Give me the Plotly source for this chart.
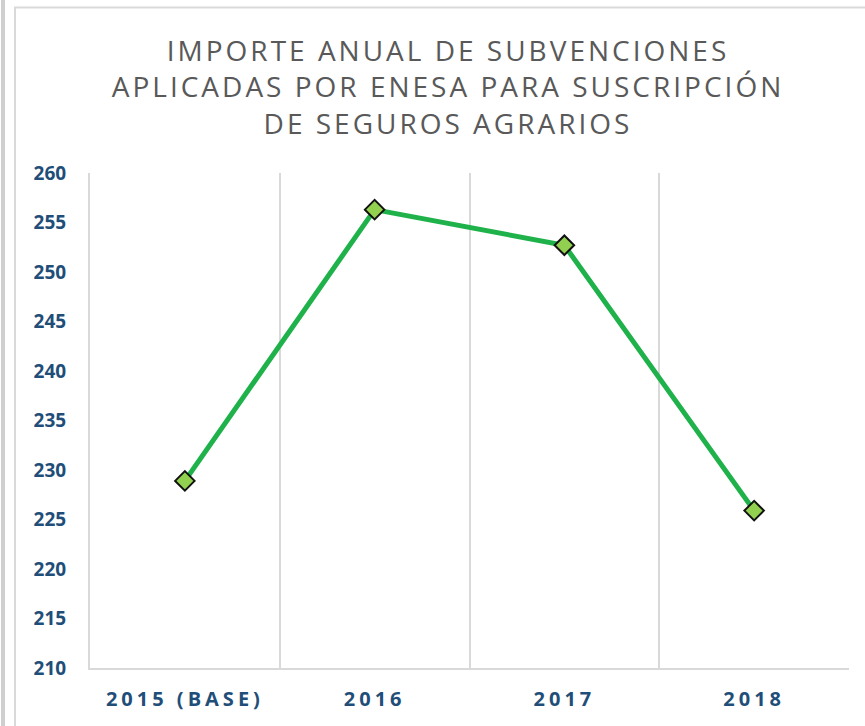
import plotly.graph_objects as go

categories = ["2015 (BASE)", "2016", "2017", "2018"]
values = [228.9, 256.3, 252.7, 225.9]
y_ticks = [210, 215, 220, 225, 230, 235, 240, 245, 250, 255, 260]
title_lines = ["IMPORTE ANUAL DE SUBVENCIONES",
               "APLICADAS POR ENESA PARA SUSCRIPCIÓN",
               "DE SEGUROS AGRARIOS"]

W, H = 865, 726
L, R, T, B = 90, 16, 173, 58

def px_x(p):
    return (p - L) / (W - L - R)

def px_y(p):
    return (H - B - p) / (H - T - B)

fig = go.Figure()
fig.add_trace(go.Scatter(
    x=categories, y=values, mode="lines+markers",
    line=dict(color="#1FB24B", width=5),
    marker=dict(symbol="diamond", size=15, color="#92D050",
                line=dict(color="#111111", width=2)),
    hoverinfo="x+y", showlegend=False,
))

grey = "#D9D9D9"
shapes = [
    dict(type="line", xref="paper", yref="paper", x0=px_x(3), x1=px_x(3),
         y0=px_y(0), y1=px_y(H), line=dict(color="#CFCFCF", width=4)),
    dict(type="line", xref="paper", yref="paper", x0=px_x(15), x1=px_x(15),
         y0=px_y(7), y1=px_y(H), line=dict(color=grey, width=2)),
    dict(type="line", xref="paper", yref="paper", x0=px_x(14), x1=px_x(W),
         y0=px_y(7.5), y1=px_y(7.5), line=dict(color=grey, width=2)),
]

fig.update_layout(
    width=W, height=H,
    margin=dict(l=L, r=R, t=T, b=B),
    paper_bgcolor="white", plot_bgcolor="white",
    title=dict(text="<br>".join(title_lines), xref="container", yref="container",
               x=448 / W, y=1 - 61 / H, xanchor="center", yanchor="middle",
               font=dict(family="Open Sans", size=28, color="#595959")),
    shapes=shapes,
    xaxis=dict(type="category", tickson="boundaries", showgrid=True,
               gridcolor=grey, gridwidth=1.5, showline=True, linecolor=grey,
               linewidth=2, ticks="", ticklabelstandoff=12,
               tickfont=dict(family="Open Sans", size=20, color="#1F4E79",
                             weight="bold"),
               range=[-0.5, 3.5], fixedrange=True),
    yaxis=dict(range=[210, 260], tickvals=y_ticks, showgrid=False,
               zeroline=False, showline=True, linecolor=grey, linewidth=2,
               ticks="", ticklabelstandoff=18,
               tickfont=dict(family="Open Sans", size=19, color="#1F4E79",
                             weight="bold")),
)

post = """
document.body.style.margin = '0';
var gd = document.getElementById('{plot_id}');
function spacing() {
  gd.querySelectorAll('.gtitle').forEach(function(e){ e.style.letterSpacing = '3px'; });
  gd.querySelectorAll('.xtick text').forEach(function(e){ e.style.letterSpacing = '4px'; });
}
spacing();
gd.on('plotly_afterplot', spacing);
"""

fig.write_html("out.html", post_script=post, config={"displayModeBar": False})
